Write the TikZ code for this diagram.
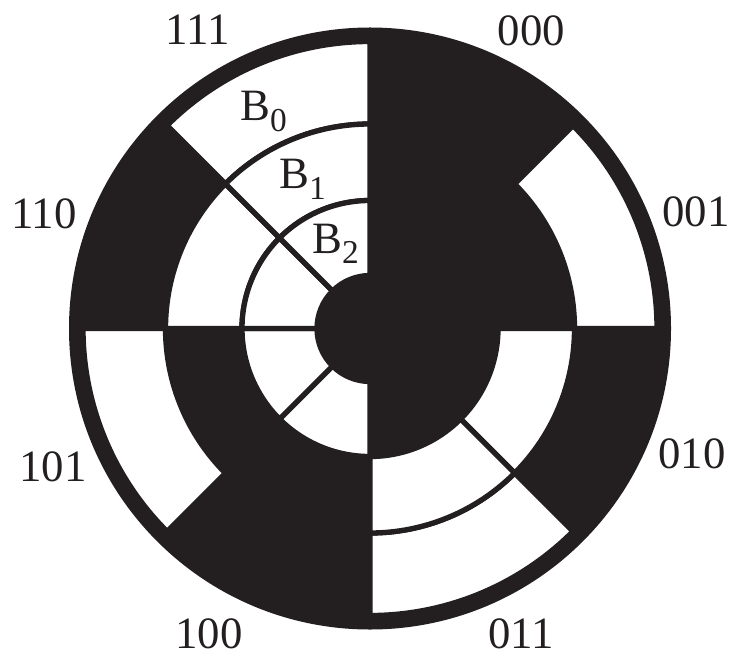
\documentclass[tikz,border=0pt]{standalone}
\usepackage{fontspec}
\setmainfont{Liberation Serif}
\definecolor{inkblack}{HTML}{231F20}
\newcommand{\bitsub}[1]{\raisebox{-5.7pt}{\fontsize{19}{22}\selectfont #1}}
\tikzset{
    code/.style={font=\fontsize{25.5}{30}\selectfont,text=inkblack,inner sep=0pt},
    cell/.style={fill=white,draw=inkblack,line width=.106cm,miter limit=20}
}
\begin{document}
\begin{tikzpicture}[scale=1]
    \useasboundingbox (0,0) rectangle (14.62,13.1);
    \coordinate (c) at (7.4,6.53);
    \fill[inkblack] (c) circle (6.02);
    % white cells: start angle / end angle / inner / outer
    \foreach \a/\b/\ri/\ro in {45/0/4.09/5.74,-45/-90/4.09/5.74,-135/-180/4.09/5.74,135/90/4.09/5.74,
                               0/-45/2.56/4.09,-45/-90/2.56/4.09,180/135/2.56/4.09,135/90/2.56/4.09,
                               -90/-135/1.06/2.56,-135/-180/1.06/2.56,180/135/1.06/2.56,135/90/1.06/2.56}{
        \draw[cell] ([shift={(\a:\ri)}]c) arc (\a:\b:\ri) -- ([shift={(\b:\ro)}]c) arc (\b:\a:\ro) -- cycle;
    }
    \node[code] (n000) at (10.63,12.48) {000};
    \node[code] (n001) at (13.92,8.86) {001};
    \node[code] (n010) at (13.84,4.02) {010};
    \node[code] (n011) at (10.42,.43) {011};
    \node[code] (n100) at (4.18,.43) {100};
    \node[code] (n101) at (1.06,3.76) {101};
    \node[code] (n110) at (.88,8.82) {110};
    \node[code] (n111) at (3.95,12.5) {111};
    \node[code,anchor=base west] (b0) at (4.8,10.68) {B\bitsub{0}};
    \node[code,anchor=base west] (b1) at (5.58,9.32) {B\bitsub{1}};
    \node[code,anchor=base west] (b2) at (6.24,8.03) {B\bitsub{2}};
\end{tikzpicture}
\end{document}
